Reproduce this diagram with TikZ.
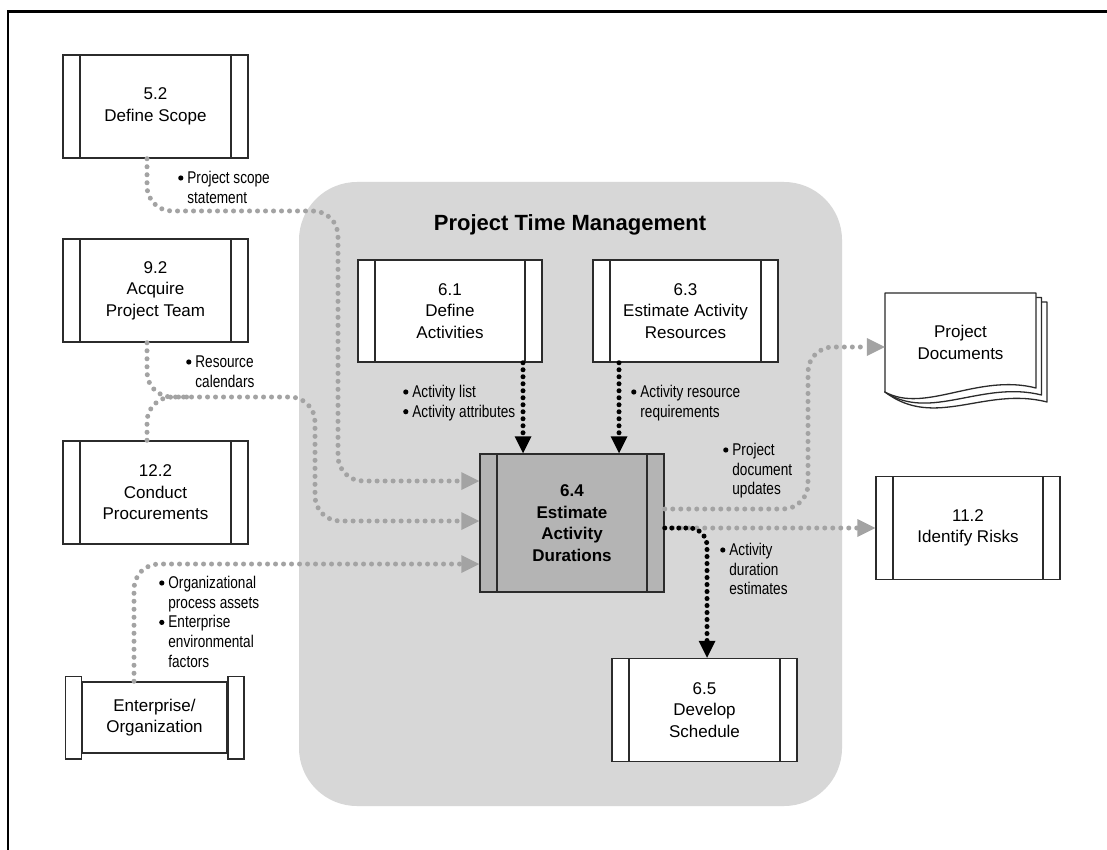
\documentclass[tikz,border=0pt]{standalone}
\usepackage{fontspec}
\setmainfont{Liberation Sans}
\newfontfamily\labfont[FakeStretch=0.8]{Liberation Sans}
\usetikzlibrary{arrows.meta,calc}
\definecolor{regiongray}{HTML}{D7D7D7}
\definecolor{boxgray}{HTML}{B4B4B4}
\definecolor{dotgray}{HTML}{A3A3A3}
\definecolor{linec}{HTML}{2B2B2B}
\tikzset{
  proc/.style={draw=linec, line width=1.5pt, fill=white, minimum width=185pt,
    minimum height=103pt, inner sep=0pt, align=center,
    font=\fontsize{17}{21.5}\selectfont,
    path picture={\draw[linec, line width=1.5pt]
      ([xshift=17pt]path picture bounding box.north west) -- ([xshift=17pt]path picture bounding box.south west)
      ([xshift=-17pt]path picture bounding box.north east) -- ([xshift=-17pt]path picture bounding box.south east);}},
  lab/.style={anchor=base west, inner sep=0pt, font=\fontsize{17}{19.7}\labfont},
  gdot/.style={draw=dotgray, line width=5pt, line cap=round, dash pattern=on 0pt off 8pt, rounded corners=25pt},
  garrow/.style={gdot, -{Triangle[length=18pt,width=18pt,line width=0pt]}},
  bdot/.style={draw=black, line width=5pt, line cap=round, dash pattern=on 0pt off 7pt, rounded corners=18pt},
  barrow/.style={bdot, -{Triangle[length=17pt,width=17pt,line width=0pt]}},
  page/.style={draw=linec, line width=1.3pt, fill=white, line join=round}
}
\newcommand{\bul}{\tikz[baseline=-5.5pt]\fill (0,0) circle (2.6pt);}
\newcommand{\blist}[1]{\begin{tabular}[t]{@{}l@{\hspace{4pt}}l@{}}#1\end{tabular}}
\begin{document}
\begin{tikzpicture}[x=1pt,y=-1pt]
\useasboundingbox (0,0) rectangle (1107,850);
\fill[white] (0,0) rectangle (1107,850);
\draw[line width=2.2pt] (8,850) -- (8,11.5) -- (1107,11.5);
% region
\fill[regiongray, rounded corners=58pt] (299,182) rectangle (842,806);
\node[font=\bfseries\fontsize{22}{24}\selectfont] (title) at (570,225) {Project Time Management};
% boxes
\node[proc] (s52) at (155.5,106.5) {5.2\\Define Scope};
\node[proc] (s92) at (155.5,290.5) {9.2\\Acquire\\Project Team};
\node[proc] (s122) at (155.5,492.5) {12.2\\Conduct\\Procurements};
\node[proc, minimum width=184pt, minimum height=102pt] (s61) at (450,311) {6.1\\Define\\Activities};
\node[proc, minimum height=102pt] (s63) at (685.5,311) {6.3\\Estimate Activity\\Resources};
\node[proc, fill=boxgray, minimum width=184pt, minimum height=138pt, font=\bfseries\fontsize{17}{21.7}\selectfont] (s64) at (572,523) {6.4\\Estimate\\Activity\\Durations};
\node[proc] (s65) at (704.5,710) {6.5\\Develop\\Schedule};
\node[proc, minimum width=184pt] (s112) at (968,528) {11.2\\Identify Risks};
% enterprise
\node[draw=linec, line width=1.5pt, fill=white, minimum width=145pt, minimum height=71pt, inner sep=0pt, align=center, font=\fontsize{17}{21.5}\selectfont] (ent) at (154.5,717.5) {Enterprise/\\Organization};
\draw[linec, line width=1.5pt, fill=white] ([xshift=-16pt,yshift=5pt]ent.north west) rectangle ([yshift=-5pt]ent.south west);
\draw[linec, line width=1.5pt, fill=white] ([yshift=5pt]ent.north east) rectangle ([xshift=16pt,yshift=-5pt]ent.south east);
% project documents
\draw[page] (1000,302) -- (1047,302) -- (1047,402) .. controls (985,386) and (935,430) .. (885,392) -- cycle;
\draw[page] (1000,297.5) -- (1041.5,297.5) -- (1041.5,395) .. controls (982,380) and (930,422) .. (885,392) -- cycle;
\draw[page] (885,293) -- (1036,293) -- (1036,388) .. controls (978,373) and (925,414) .. (885,392) -- cycle;
\node[minimum width=151pt, minimum height=99pt, inner sep=0pt, align=center, font=\fontsize{17}{21.5}\selectfont] (pd) at (960.5,342.5) {Project\\Documents};
% coordinates
\coordinate (c1) at (338,211);
\coordinate (j2) at (315,397);
\coordinate (j3) at (192,397);
\coordinate (o1) at ([yshift=14pt]s64.east);
\coordinate (o2) at ([yshift=-5pt]s64.east);
\coordinate (k1) at (808,347);
\coordinate (a1) at ([xshift=-49pt]s64.north);
\coordinate (a2) at ([xshift=47pt]s64.north);
% gray connectors
\draw[garrow] ([xshift=-8.5pt]s52.south) |- (c1) |- ([yshift=42pt]s64.west);
\draw[garrow] ([xshift=-8.5pt]s92.south) |- (j2) |- ([yshift=2pt]s64.west);
\draw[gdot] ([xshift=-8.5pt]s122.north) |- (j3);
\draw[garrow] ([xshift=-20.5pt]ent.north) |- ([yshift=-41pt]s64.west);
\draw[garrow] (o1) -| (k1) -- ([yshift=-4.5pt]pd.west);
\draw[garrow] (o2) -- (o2 -| s112.west);
% black connectors
\draw[barrow] (a1 |- s61.south) -- (a1);
\draw[barrow] (a2 |- s63.south) -- (a2);
\draw[barrow] (o2) -| ([xshift=2.5pt]s65.north);
% labels
\node[lab] (l1) at (178,183.5) {\blist{\bul & Project scope\\ & statement}};
\node[lab] (l2) at (186,367.5) {\blist{\bul & Resource\\ & calendars}};
\node[lab] (l3) at (403,397.5) {\blist{\bul & Activity list\\ \bul & Activity attributes}};
\node[lab] (l4) at (631,397.5) {\blist{\bul & Activity resource\\ & requirements}};
\node[lab] (l5) at (723,455.5) {\blist{\bul & Project\\ & document\\ & updates}};
\node[lab] (l6) at (720,555.5) {\blist{\bul & Activity\\ & duration\\ & estimates}};
\node[lab] (l7) at (159,588.5) {\blist{\bul & Organizational\\ & process assets\\ \bul & Enterprise\\ & environmental\\ & factors}};
\end{tikzpicture}
\end{document}
